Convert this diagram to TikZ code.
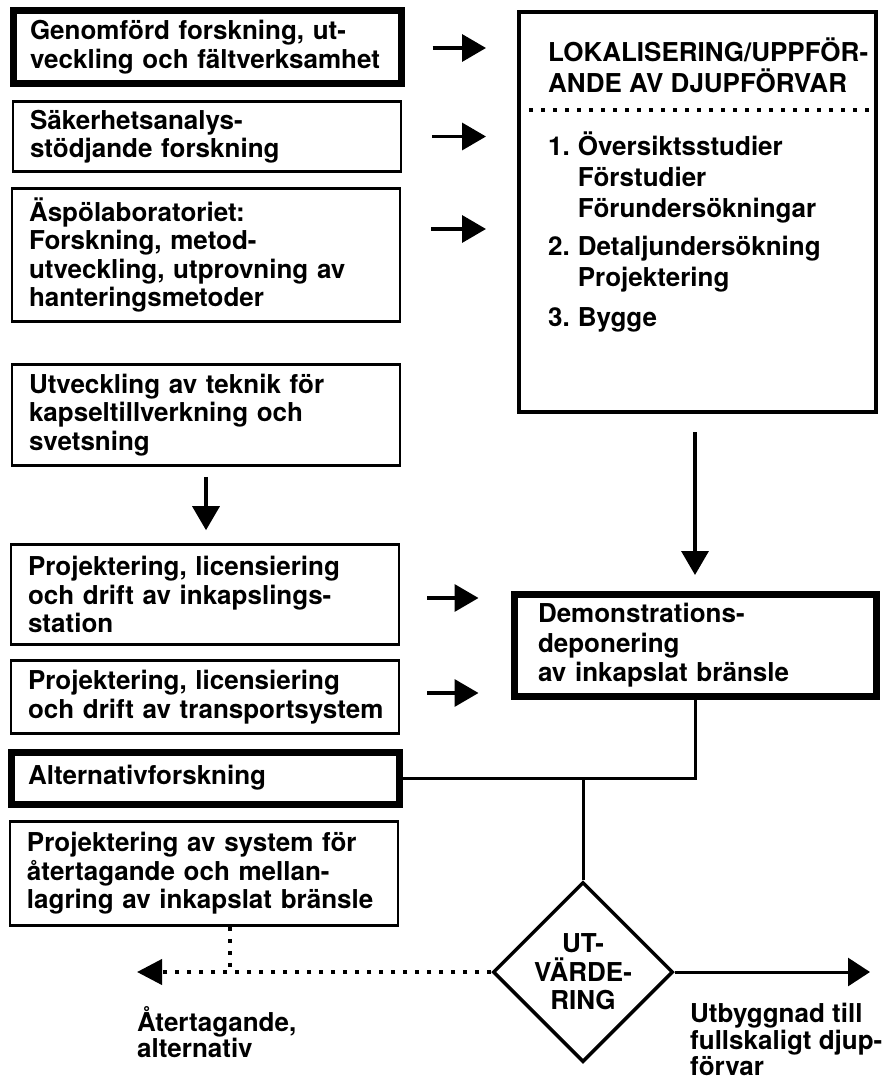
\documentclass[tikz,border=0pt]{standalone}
\usepackage{fontspec}
\setmainfont{TeX Gyre Heros}
\usetikzlibrary{arrows.meta, positioning, shapes.geometric, calc}

\begin{document}
\begin{tikzpicture}[
    x=1pt, y=-1pt,
    txt/.style={inner sep=0pt, align=left, font=\fontsize{26pt}{28.5pt}\selectfont\bfseries},
    loktxt/.style={txt, font=\fontsize{26pt}{31pt}\selectfont\bfseries},
    lowtxt/.style={txt, font=\fontsize{26pt}{26.5pt}\selectfont\bfseries},
    box/.style={txt, draw, line width=2.6pt, text width=354pt, inner xsep=17pt, inner ysep=4pt},
    thickbox/.style={box, line width=7pt},
    arr/.style={line width=3.5pt, -{Triangle[length=24pt, width=27pt]}},
    link/.style={line width=3pt},
    dotline/.style={line width=4pt, dash pattern=on 4pt off 8pt}
]
    \useasboundingbox (0,0) rectangle (883,1083);

    % left column
    \node[thickbox, minimum height=73pt] (b1) at (207,47) {Genomförd forskning, ut-\\\mbox{veckling och fältverksamhet}};
    \node[box, minimum height=70pt] (b2) at (207,136.5) {Säkerhetsanalys-\\stödjande forskning};
    \node[box, minimum height=133pt] (b3) at (206,255) {Äspölaboratoriet:\\Forskning, metod-\\utveckling, utprovning av\\hanteringsmetoder};
    \node[box, minimum height=101pt] (b4) at (206,415) {Utveckling av teknik för\\kapseltillverkning och\\svetsning};
    \node[box, minimum height=100pt] (b5) at (205,594.5) {Projektering, licensiering\\och drift av inkapslings-\\station};
    \node[box, minimum height=73pt] (b6) at (205,697) {Projektering, licensiering\\\mbox{och drift av transportsystem}};
    \node[thickbox, minimum height=52pt] (b7) at (205,778) {Alternativforskning};
    \node[box, minimum height=104pt] (b8) at (204,873.5) {Projektering av system för\\återtagande och mellan-\\\mbox{lagring av inkapslat bränsle}};

    % right column
    \node[draw, line width=4pt, minimum width=357pt, minimum height=400pt, inner sep=0pt] (lok) at (697.5,212) {};
    \node[loktxt, anchor=north west] (lokhead) at (548,38) {LOKALISERING/UPPFÖR-\\ANDE AV DJUPFÖRVAR};
    \coordinate (cut) at (0,110);
    \draw[dotline, line width=3.5pt] (lok.west |- cut) -- (lok.east |- cut);
    \node[loktxt, anchor=north west] (lokitems) at (548,132) {%
        \begin{tabular}{@{}l@{\hspace{8pt}}l@{}}
        1. & Översiktsstudier\\
           & Förstudier\\
           & Förundersökningar\\[7pt]
        2. & Detaljundersökning\\
           & Projektering\\[9pt]
        3. & Bygge
        \end{tabular}};

    \node[thickbox, text width=314pt, inner xsep=24pt, minimum height=102pt, font=\fontsize{26pt}{29.5pt}\selectfont\bfseries] (demo) at (695,645.5) {Demonstrations-\\deponering\\av inkapslat bränsle};

    \node[draw, diamond, line width=3.5pt, minimum width=180pt, minimum height=180pt, inner sep=0pt] (eval) at (583,972) {};
    \node[txt, align=center] (evaltext) at (eval) {UT-\\VÄRDE-\\RING};

    \coordinate (ret) at (137,972);
    \coordinate (fwd) at (870,972);
    \coordinate (join) at (230,972);

    \node[lowtxt, anchor=north west] (retlabel) at (137,1006) {Återtagande,\\alternativ};
    \node[lowtxt, anchor=north west] (fwdlabel) at (690,1003) {Utbyggnad till\\fullskaligt djup-\\förvar};

    % arrows into the right column
    \draw[arr] ($(b1.east)+(28,1)$) -- ($(b1.east -| lok.west)+(-31,1)$);
    \draw[arr] ($(b2.east)+(30,0)$) -- ($(b2.east -| lok.west)+(-31,0)$);
    \draw[arr] ($(b3.east)+(30,-26)$) -- ($(b3.east -| lok.west)+(-31,-26)$);
    \draw[arr] ($(b5.east)+(27,3.5)$) -- ($(b5.east -| demo.west)+(-32,3.5)$);
    \draw[arr] ($(b6.east)+(27,-4)$) -- ($(b6.east -| demo.west)+(-32,-4)$);

    \draw[arr, shorten <=10pt, shorten >=13pt] (b4.south) -- (b4.south |- b5.north);
    \draw[arr, shorten <=18pt, shorten >=16pt] (demo.north |- lok.south) -- (demo.north);

    % evaluation
    \draw[link] (demo.south) |- (b7.east);
    \draw[link] (eval.north) -- (eval.north |- b7.east);
    \draw[arr, line width=3pt, -{Triangle[length=22pt, width=28pt]}] (eval.east) -- (fwd);
    \draw[dotline, -{Triangle[length=25pt, width=25pt]}] (eval.west) -- (ret);
    \draw[dotline] (join |- b8.south) -- (join);
\end{tikzpicture}
\end{document}
